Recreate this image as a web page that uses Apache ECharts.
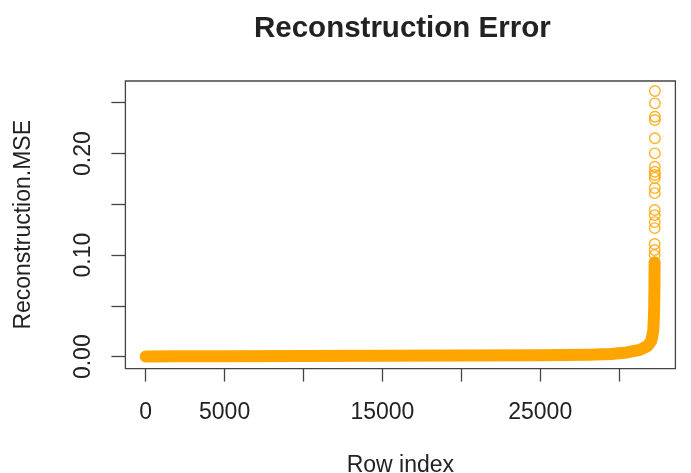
<!DOCTYPE html>
<html lang="en">
<head>
  <meta charset="UTF-8">
  <title>Reconstruction Error</title>
  <script src="https://cdn.jsdelivr.net/npm/echarts@6.0.0/dist/echarts.min.js"></script>
  <style>
    body { margin: 0; padding: 0; background: #fff; }
    #chart { width: 691px; height: 473px; }
  </style>
</head>
<body>
  <div id="chart"></div>
  <script>
    // sorted reconstruction MSE, the dense part read as a path along the band
    var curveIndex = [1, 2000, 5000, 10000, 15000, 20000, 25000, 28000, 29500, 30500, 31300, 31800, 32050, 32170, 32220, 32240, 32250];
    var curveMSE = [0.0002, 0.0004, 0.0005, 0.0007, 0.0009, 0.0011, 0.0015, 0.0019, 0.0026, 0.0042, 0.0068, 0.0105, 0.016, 0.026, 0.045, 0.07, 0.093];

    // the sparse largest errors at the end of the index
    var tailIndex = [32252, 32253, 32254, 32255, 32256, 32257, 32258, 32259, 32260, 32261, 32262, 32263, 32264, 32265, 32266, 32267, 32268, 32269, 32270];
    var tailMSE = [0.100, 0.105, 0.111, 0.1266, 0.1325, 0.1394, 0.1444, 0.161, 0.166, 0.176, 0.1788, 0.182, 0.187, 0.2002, 0.215, 0.233, 0.2362, 0.2494, 0.2615];

    var xTicks = [0, 5000, 10000, 15000, 20000, 25000, 30000];
    var xLabels = [0, 5000, 15000, 25000];
    var yTicks = [0, 0.05, 0.10, 0.15, 0.20, 0.25];
    var yLabels = [0, 0.10, 0.20];

    var orange = '#FFA500';
    var ink = '#222';
    var font = 'Liberation Sans, Arial, sans-serif';

    var chart = echarts.init(document.getElementById('chart'));

    var option = {
      animation: false,
      title: {
        text: 'Reconstruction Error',
        left: 249,
        top: 9,
        textStyle: { fontFamily: font, fontSize: 29.5, fontWeight: 'bold', color: ink }
      },
      grid: {
        left: 125.4,
        right: 15.6,
        top: 81,
        bottom: 104.4,
        outerBoundsMode: 'none',
        show: true,
        borderColor: '#444',
        borderWidth: 1.3,
        backgroundColor: 'transparent'
      },
      xAxis: {
        type: 'value',
        min: -1286,
        max: 33568,
        name: 'Row index',
        nameLocation: 'middle',
        nameGap: 86,
        nameTextStyle: { fontFamily: font, fontSize: 23, color: ink },
        axisLine: { show: false, onZero: false },
        splitLine: { show: false },
        axisTick: {
          show: true,
          length: 13,
          customValues: xTicks,
          lineStyle: { color: '#444', width: 1.3 }
        },
        axisLabel: {
          customValues: xLabels,
          margin: 33,
          fontFamily: font,
          fontSize: 23,
          color: ink,
          formatter: function (v) { return String(v); }
        }
      },
      yAxis: {
        type: 'value',
        min: -0.0117,
        max: 0.2714,
        name: 'Reconstruction.MSE',
        nameLocation: 'middle',
        nameGap: 90,
        nameTextStyle: { fontFamily: font, fontSize: 23, color: ink },
        axisLine: { show: false, onZero: false },
        splitLine: { show: false },
        axisTick: {
          show: true,
          length: 14,
          customValues: yTicks,
          lineStyle: { color: '#444', width: 1.3 }
        },
        axisLabel: {
          customValues: yLabels,
          rotate: 90,
          margin: 30,
          fontFamily: font,
          fontSize: 23,
          color: ink,
          formatter: function (v) { return v.toFixed(2); }
        }
      },
      series: [
        {
          type: 'line',
          data: curveIndex.map(function (x, i) { return [x, curveMSE[i]]; }),
          showSymbol: false,
          symbol: 'none',
          lineStyle: { color: orange, width: 12, cap: 'round', join: 'round' },
          z: 2
        },
        {
          type: 'scatter',
          data: tailIndex.map(function (x, i) { return [x, tailMSE[i]]; }),
          symbol: 'circle',
          symbolSize: 10.5,
          itemStyle: { color: 'transparent', borderColor: orange, borderWidth: 1.4, opacity: 0.85 },
          z: 3
        }
      ]
    };

    chart.setOption(option);
  </script>
</body>
</html>
